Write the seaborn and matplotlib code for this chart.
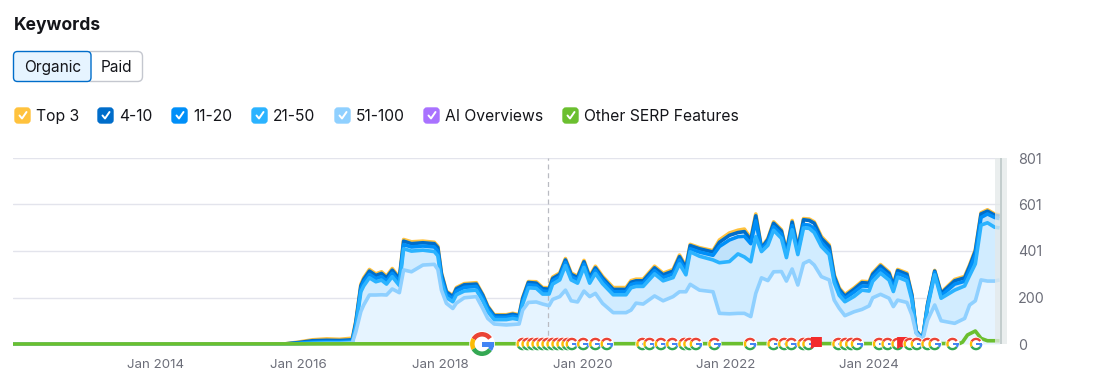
import matplotlib
matplotlib.use("Agg")
import matplotlib.pyplot as plt
import pandas as pd
import seaborn as sns
from matplotlib.patches import Circle, FancyBboxPatch, Polygon, Rectangle, Wedge

W, H = 1119, 387

years = [2012.00, 2015.80, 2016.00, 2016.20, 2016.40, 2016.58, 2016.76, 2016.81, 2016.88, 2016.92,
         2017.00, 2017.09, 2017.17, 2017.24, 2017.32, 2017.42, 2017.48, 2017.59, 2017.75, 2017.91,
         2017.96, 2018.01, 2018.08, 2018.17, 2018.22, 2018.33, 2018.50, 2018.59, 2018.66, 2018.75,
         2018.92, 2019.01, 2019.10, 2019.15, 2019.23, 2019.34, 2019.43, 2019.52, 2019.57, 2019.67,
         2019.75, 2019.83, 2019.92, 2020.01, 2020.09, 2020.17, 2020.27, 2020.42, 2020.60, 2020.67,
         2020.74, 2020.84, 2021.00, 2021.12, 2021.26, 2021.35, 2021.44, 2021.50, 2021.63, 2021.82,
         2021.91, 2022.05, 2022.17, 2022.26, 2022.35, 2022.42, 2022.50, 2022.59, 2022.67, 2022.78,
         2022.85, 2022.93, 2023.01, 2023.09, 2023.17, 2023.24, 2023.34, 2023.45, 2023.52, 2023.59,
         2023.67, 2023.80, 2023.91, 2024.01, 2024.06, 2024.17, 2024.29, 2024.35, 2024.41, 2024.54,
         2024.61, 2024.67, 2024.76, 2024.83, 2024.93, 2025.02, 2025.21, 2025.35, 2025.42, 2025.50,
         2025.58, 2025.67, 2025.77, 2025.84]

# cumulative totals, as the stacked chart shows them
top3 = [0, 0, 8, 18, 22, 20, 25, 100, 257, 285,
        321, 302, 311, 292, 325, 286, 450, 440, 443, 438,
        421, 307, 228, 208, 243, 260, 264, 214, 164, 126,
        126, 132, 126, 200, 269, 268, 243, 242, 288, 306,
        368, 306, 292, 360, 292, 335, 292, 243, 243, 273,
        279, 279, 335, 305, 321, 383, 335, 429, 415, 402,
        448, 478, 490, 495, 455, 560, 415, 455, 526, 492,
        400, 532, 415, 540, 538, 526, 463, 427, 299, 242,
        213, 242, 270, 268, 306, 342, 310, 257, 321, 306,
        214, 58, 23, 172, 317, 222, 278, 291, 341, 406,
        565, 578, 560, 556]
pos_4_10 = [0, 0, 6, 14, 16, 15, 18, 95, 250, 278,
            314, 295, 304, 285, 318, 280, 443, 432, 436, 432,
            415, 302, 224, 204, 238, 255, 258, 210, 160, 122,
            122, 128, 122, 196, 265, 262, 238, 236, 282, 300,
            362, 300, 286, 354, 286, 328, 285, 235, 235, 266,
            272, 272, 328, 298, 314, 376, 328, 424, 410, 396,
            438, 468, 480, 484, 448, 552, 412, 450, 520, 486,
            396, 525, 410, 535, 532, 520, 455, 420, 292, 236,
            206, 236, 264, 262, 300, 336, 304, 252, 316, 300,
            210, 56, 22, 170, 314, 218, 272, 285, 335, 400,
            560, 572, 555, 550]
pos_11_20 = [0, 0, 3, 8, 10, 10, 12, 85, 240, 268,
             300, 282, 290, 272, 305, 268, 428, 418, 422, 418,
             400, 288, 214, 195, 228, 244, 248, 200, 152, 115,
             115, 120, 115, 186, 255, 252, 228, 226, 272, 290,
             352, 290, 276, 344, 276, 318, 275, 225, 225, 256,
             262, 262, 316, 286, 302, 362, 316, 410, 396, 382,
             420, 448, 462, 464, 432, 530, 405, 440, 505, 472,
             385, 510, 398, 515, 512, 498, 438, 400, 280, 224,
             196, 224, 250, 248, 288, 322, 292, 240, 304, 288,
             202, 52, 20, 165, 308, 208, 258, 270, 320, 385,
             545, 560, 545, 540]
pos_21_50 = [0, 0, 1, 4, 5, 5, 8, 75, 225, 250,
             285, 268, 275, 258, 290, 252, 410, 400, 404, 398,
             380, 270, 200, 182, 212, 228, 232, 186, 140, 105,
             105, 110, 105, 172, 242, 240, 215, 215, 258, 276,
             338, 276, 262, 330, 262, 304, 260, 212, 212, 242,
             248, 248, 302, 272, 286, 345, 298, 397, 378, 362,
             350, 355, 388, 375, 354, 462, 398, 425, 490, 455,
             372, 492, 385, 500, 498, 480, 420, 385, 265, 210,
             182, 205, 232, 228, 270, 305, 275, 226, 288, 272,
             190, 49, 18, 158, 298, 197, 232, 250, 295, 345,
             512, 522, 503, 500]
pos_51_100 = [0, 0, 0, 1, 2, 2, 5, 53, 140, 168,
              211, 211, 212, 211, 237, 221, 319, 311, 340, 343,
              321, 232, 175, 153, 176, 199, 204, 153, 110, 86,
              82, 84, 86, 146, 179, 181, 172, 165, 192, 204,
              232, 186, 181, 228, 204, 218, 175, 135, 135, 146,
              176, 172, 207, 186, 204, 225, 225, 257, 232, 225,
              132, 130, 132, 132, 118, 218, 285, 273, 311, 312,
              271, 323, 254, 347, 359, 340, 290, 276, 189, 154,
              122, 139, 149, 164, 199, 214, 197, 161, 189, 179,
              125, 46, 17, 103, 168, 100, 89, 110, 168, 186,
              276, 271, 271, 276]

serp_years = [2012.00, 2025.28, 2025.32, 2025.39, 2025.50, 2025.58, 2025.67, 2025.84]
serp_values = [0, 2, 8, 39, 56, 24, 14, 14]

google_updates = [2019.15, 2019.22, 2019.29, 2019.36, 2019.43, 2019.50, 2019.57, 2019.64, 2019.71,
                  2019.78, 2019.84, 2020.00, 2020.17, 2020.33, 2020.83, 2020.93, 2021.09, 2021.25,
                  2021.42, 2021.49, 2021.58, 2021.84, 2022.34, 2022.67, 2022.82, 2022.92, 2023.09,
                  2023.16, 2023.58, 2023.68, 2023.76, 2023.84, 2024.15, 2024.27, 2024.41, 2024.58,
                  2024.68, 2024.83, 2024.93, 2025.18, 2025.51]
big_google_update = 2018.58
flag_events = [2023.27, 2024.48]

x_ticks = [2014, 2016, 2018, 2020, 2022, 2024]
x_labels = ["Jan 2014", "Jan 2016", "Jan 2018", "Jan 2020", "Jan 2022", "Jan 2024"]
y_ticks = [0, 200, 401, 601, 801]
selected_year = 2019.5

legend_names = ["Top 3", "4-10", "11-20", "21-50", "51-100", "AI Overviews", "Other SERP Features"]
legend_colors = ["#FFC23D", "#006DCA", "#008FF8", "#2BB3FF", "#8FD0FF", "#A972FF", "#6BBF2F"]
legend_box_x = [14, 97, 171, 251, 334, 423, 562]

df = pd.DataFrame({"year": years, "Top 3": top3, "4-10": pos_4_10, "11-20": pos_11_20,
                   "21-50": pos_21_50, "51-100": pos_51_100})

sns.set_theme(style="white")
plt.rcParams["font.family"] = ["Inter", "DejaVu Sans"]

fig = plt.figure(figsize=(W / 100, H / 100), dpi=100)
ax = fig.add_axes([13 / W, (H - 344) / H, 988 / W, 186 / H])

ax.fill_between(df["year"], 0, df["51-100"], color="#E6F4FF", lw=0, zorder=1)
ax.fill_between(df["year"], df["51-100"], df["21-50"], color="#D1ECFF", lw=0, zorder=1)
ax.fill_between(df["year"], df["21-50"], df["11-20"], color="#BFE2FB", lw=0, zorder=1)

for i, name in enumerate(legend_names[:5]):
    sns.lineplot(data=df, x="year", y=name, color=legend_colors[i], linewidth=2.6,
                 ax=ax, zorder=3 + i, clip_on=False, solid_joinstyle="round", solid_capstyle="butt")

sns.lineplot(x=serp_years, y=serp_values, color=legend_colors[6], linewidth=2.6, ax=ax, zorder=10,
             clip_on=False, solid_joinstyle="round", solid_capstyle="butt")

ax.axvline(selected_year, color="#B9BBC2", lw=0.9, ls=(0, (4, 3)), zorder=2)

ax.set_xlim(2012.0, 2025.86)
ax.set_ylim(0, 801)
ax.set_xticks(x_ticks)
ax.set_xticklabels(x_labels, fontsize=9.6, color="#6C6E79")
ax.set_yticks(y_ticks)
ax.set_yticklabels([str(v) for v in y_ticks], fontsize=10.3, color="#6C6E79")
ax.yaxis.tick_right()
ax.tick_params(axis="x", length=0, pad=11)
ax.tick_params(axis="y", length=0, pad=12)
ax.set_xlabel("")
ax.set_ylabel("")
ax.grid(axis="y", color="#E3E4EC", lw=1.0)
ax.set_axisbelow(True)
sns.despine(ax=ax, left=True, right=True, top=True, bottom=True)

# everything that is page furniture gets drawn in pixel coords on top
ui = fig.add_axes([0, 0, 1, 1], zorder=5)
ui.set_xlim(0, W)
ui.set_ylim(0, H)
ui.axis("off")
ui.patch.set_alpha(0)


def to_px(x, y):
    p = ax.transData.transform((x, y))
    return ui.transData.inverted().transform(p)


def draw_g(x, y, r):
    ui.add_patch(Circle((x, y), r + 0.8, color="white", lw=0))
    w = r * 0.38
    ui.add_patch(Wedge((x, y), r, 35, 150, width=w, color="#EA4335", lw=0))
    ui.add_patch(Wedge((x, y), r, 150, 210, width=w, color="#FBBC05", lw=0))
    ui.add_patch(Wedge((x, y), r, 210, 325, width=w, color="#34A853", lw=0))
    ui.add_patch(Wedge((x, y), r, 325, 360, width=w, color="#4285F4", lw=0))
    ui.add_patch(Rectangle((x, y - w * 0.6), r, w * 0.95, color="#4285F4", lw=0))


def draw_flag(x, y):
    ui.add_patch(Polygon([(x - 5.5, y + 7), (x + 5.5, y + 7), (x + 5.5, y - 3), (x - 2, y - 3), (x - 5.5, y - 5)],
                         closed=True, color="#F32C2C", lw=0))


# handle at the right end of the chart
x0, y0 = to_px(2025.78, 0)
x1, y1 = to_px(2025.86, 801)
ui.add_patch(Rectangle((x0, y0), x1 - x0, y1 - y0, color="#E4E9E9", alpha=0.75, lw=0))
ui.add_patch(Rectangle((x1, y0), 6, y1 - y0, color="#EAEEEE", lw=0))
ui.add_patch(Rectangle((x1 - 1, y0), 2, y1 - y0, color="#C3CDCD", lw=0))

# later events sit on top of earlier ones
events = sorted([(d, "g") for d in google_updates] + [(d, "flag") for d in flag_events])
for d, kind in events:
    if kind == "g":
        draw_g(*to_px(d, 0), 6.3)
    else:
        draw_flag(*to_px(d, 0))
draw_g(*to_px(big_google_update, 0), 12)

ui.text(14, H - 30, "Keywords", fontsize=12.6, fontweight="bold", color="#14151A", va="baseline", ha="left")

ui.add_patch(FancyBboxPatch((86, H - 81.5), 56.5, 30, boxstyle="round,pad=0,rounding_size=5",
                            fc="white", ec="#C4C7CF", lw=1))
ui.add_patch(FancyBboxPatch((13.5, H - 81.5), 77.5, 30, boxstyle="round,pad=0,rounding_size=4",
                            fc="#E6F4FF", ec="#006DCA", lw=1))
ui.text(52.5, H - 72, "Organic", fontsize=11.1, color="#14151A", va="baseline", ha="center")
ui.text(116.5, H - 72, "Paid", fontsize=11.1, color="#14151A", va="baseline", ha="center")

for name, color, bx in zip(legend_names, legend_colors, legend_box_x):
    ui.add_patch(FancyBboxPatch((bx + 1, H - 123), 15, 15, boxstyle="round,pad=0,rounding_size=3",
                                fc=color, ec=color, lw=1))
    ui.plot([bx + 5.5, bx + 8, bx + 12.5], [H - 115.5, H - 118.5, H - 112], color="white", lw=1.4,
            solid_joinstyle="round", solid_capstyle="round")
    ui.text(bx + 22, H - 121, name, fontsize=11.3, color="#14151A", va="baseline", ha="left")

fig.savefig("out.png", dpi=100)
plt.close(fig)
